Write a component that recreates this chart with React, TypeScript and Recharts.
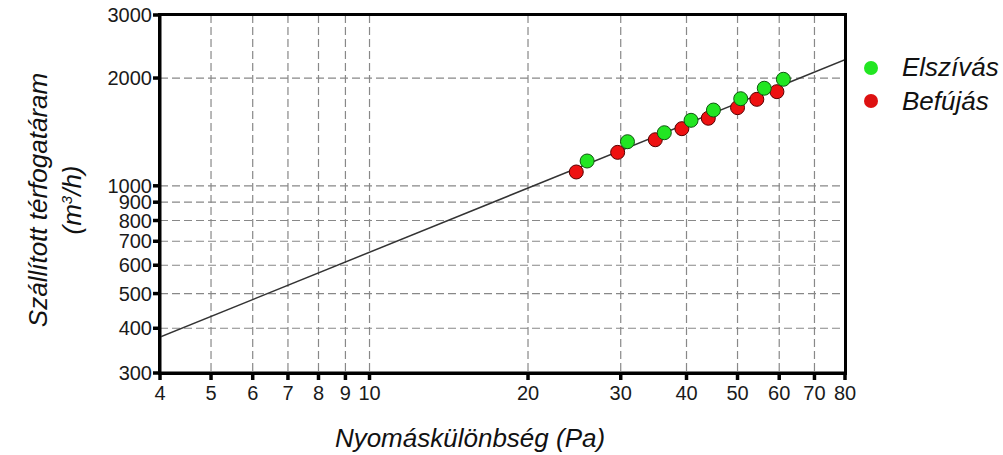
import {
    ScatterChart,
    Scatter,
    XAxis,
    YAxis,
    CartesianGrid,
} from "recharts";

// Axis ticks (log-log chart)
const xTicks = [4, 5, 6, 7, 8, 9, 10, 20, 30, 40, 50, 60, 70, 80];
const yTicks = [300, 400, 500, 600, 700, 800, 900, 1000, 2000, 3000];

// Measured points
const elszivasDp = [25.9, 30.9, 36.3, 40.8, 45.0, 50.7, 56.2, 61.1];
const elszivasQ = [1173, 1328, 1407, 1524, 1628, 1751, 1873, 1984];
const befujasDp = [24.7, 29.6, 34.9, 39.2, 44.0, 50.0, 54.4, 59.4];
const befujasQ = [1093, 1240, 1345, 1444, 1544, 1653, 1744, 1832];

// Characteristic line end points
const lineDp = [4, 80];
const lineQ = [378, 2250];

const toPoints = (xs: number[], ys: number[]) => xs.map((x, i) => ({ x, y: ys[i] }));

const FONT = "'Liberation Sans', Arial, sans-serif";
const tickStyle = { fontSize: 20, fill: "#1a1a1a", stroke: "none", fontFamily: FONT };
const titleStyle: React.CSSProperties = {
    position: "absolute",
    fontFamily: FONT,
    fontStyle: "italic",
    fontSize: 26,
    color: "#111",
    whiteSpace: "nowrap",
    lineHeight: 1,
};

const Dot = (color: string, edge: string) => (props: any) => (
    <circle cx={props.cx} cy={props.cy} r={7} fill={color} stroke={edge} strokeWidth={1} />
);

export default function App() {
    return (
        <div style={{ position: "absolute", left: 0, top: 0, width: 1003, height: 455, background: "#fff" }}>
            <ScatterChart
                width={1003}
                height={455}
                margin={{ top: 15, right: 158, bottom: 42, left: 80 }}
            >
                <CartesianGrid stroke="#888" strokeDasharray="8 4" strokeWidth={1.2} />
                <XAxis
                    type="number"
                    dataKey="x"
                    scale="log"
                    domain={[4, 80]}
                    ticks={xTicks}
                    allowDataOverflow
                    interval={0}
                    height={40}
                    tick={tickStyle}
                    tickSize={7}
                    tickMargin={6}
                    axisLine={{ stroke: "#000", strokeWidth: 3 }}
                    tickLine={{ stroke: "#000", strokeWidth: 3.5 }}
                />
                <YAxis
                    type="number"
                    dataKey="y"
                    scale="log"
                    domain={[300, 3000]}
                    ticks={yTicks}
                    allowDataOverflow
                    interval={0}
                    width={80}
                    tick={tickStyle}
                    tickSize={7}
                    tickMargin={1}
                    axisLine={{ stroke: "#000", strokeWidth: 3 }}
                    tickLine={{ stroke: "#000", strokeWidth: 3.5 }}
                />
                <Scatter
                    data={toPoints(lineDp, lineQ)}
                    line={{ stroke: "#333", strokeWidth: 1.5 }}
                    shape={() => <g />}
                    isAnimationActive={false}
                />
                <Scatter
                    data={toPoints(befujasDp, befujasQ)}
                    shape={Dot("#ee1111", "#550000")}
                    isAnimationActive={false}
                />
                <Scatter
                    data={toPoints(elszivasDp, elszivasQ)}
                    shape={Dot("#22e622", "#115511")}
                    isAnimationActive={false}
                />
            </ScatterChart>

            {/* plot frame */}
            <div
                style={{
                    position: "absolute",
                    left: 158,
                    top: 13,
                    width: 689,
                    height: 362,
                    boxSizing: "border-box",
                    border: "3px solid #000",
                    pointerEvents: "none",
                }}
            />

            {/* Axis titles */}
            <div style={{ ...titleStyle, left: 470, top: 425, transform: "translateX(-50%)" }}>
                Nyomáskülönbség (Pa)
            </div>
            <div
                style={{
                    ...titleStyle,
                    left: 38,
                    top: 200,
                    transform: "translate(-50%, -50%) rotate(-90deg)",
                    textAlign: "center",
                }}
            >
                Szállított térfogatáram
            </div>
            <div
                style={{
                    ...titleStyle,
                    left: 72,
                    top: 200,
                    transform: "translate(-50%, -50%) rotate(-90deg)",
                }}
            >
                (m<sup style={{ fontSize: 15 }}>3</sup>/h)
            </div>

            {/* Legend */}
            <div style={{ position: "absolute", left: 864, top: 61, width: 14, height: 14, borderRadius: 7, background: "#22e622" }} />
            <div style={{ ...titleStyle, left: 902, top: 54 }}>Elszívás</div>
            <div style={{ position: "absolute", left: 864, top: 94, width: 14, height: 14, borderRadius: 7, background: "#dd1111" }} />
            <div style={{ ...titleStyle, left: 902, top: 88 }}>Befújás</div>
        </div>
    );
}
